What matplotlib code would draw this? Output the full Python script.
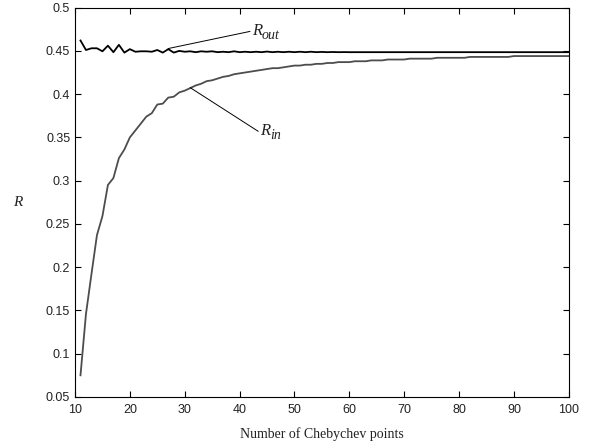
import numpy as np
import matplotlib
matplotlib.use("Agg")
import matplotlib.pyplot as plt
from matplotlib.transforms import offset_copy

# data
n_points = list(range(11, 101))

r_in = [
    0.075, 0.146, 0.192, 0.237, 0.259, 0.295, 0.303, 0.326, 0.336, 0.350,
    0.358, 0.366, 0.374, 0.378, 0.388, 0.389, 0.396, 0.397, 0.402, 0.404,
    0.407, 0.410, 0.412, 0.415, 0.416, 0.418, 0.420, 0.421, 0.423, 0.424,
    0.425, 0.426, 0.427, 0.428, 0.429, 0.430, 0.430, 0.431, 0.432, 0.433,
    0.433, 0.434, 0.434, 0.435, 0.435, 0.436, 0.436, 0.437, 0.437, 0.437,
    0.438, 0.438, 0.438, 0.439, 0.439, 0.439, 0.440, 0.440, 0.440, 0.440,
    0.441, 0.441, 0.441, 0.441, 0.441, 0.442, 0.442, 0.442, 0.442, 0.442,
    0.442, 0.443, 0.443, 0.443, 0.443, 0.443, 0.443, 0.443, 0.443, 0.444,
    0.444, 0.444, 0.444, 0.444, 0.444, 0.444, 0.444, 0.444, 0.444, 0.444,
]

r_out = [
    0.462, 0.451, 0.453, 0.453, 0.4495, 0.456, 0.4485, 0.457, 0.448, 0.452,
    0.449, 0.4495, 0.4495, 0.449, 0.451, 0.448, 0.452, 0.448, 0.450, 0.449,
    0.4495, 0.4485, 0.4495, 0.449, 0.4495, 0.4485, 0.449, 0.4485, 0.4495, 0.4485,
    0.449, 0.4485, 0.449, 0.4485, 0.4492, 0.4485, 0.449, 0.4485, 0.449, 0.4485,
    0.449, 0.4485, 0.449, 0.4485, 0.4488, 0.4485, 0.4487, 0.4485, 0.4486, 0.4485,
    0.4485, 0.4485, 0.4485, 0.4485, 0.4485, 0.4485, 0.4485, 0.4485, 0.4485, 0.4485,
    0.4485, 0.4485, 0.4485, 0.4485, 0.4485, 0.4485, 0.4485, 0.4485, 0.4485, 0.4485,
    0.4485, 0.4485, 0.4485, 0.4485, 0.4485, 0.4485, 0.4485, 0.4485, 0.4485, 0.4485,
    0.4485, 0.4485, 0.4485, 0.4485, 0.4485, 0.4485, 0.4485, 0.4485, 0.4485, 0.4485,
]

x_ticks = [10, 20, 30, 40, 50, 60, 70, 80, 90, 100]
y_ticks = [0.05, 0.1, 0.15, 0.2, 0.25, 0.3, 0.35, 0.4, 0.45, 0.5]
y_tick_labels = ["0.05", "0.1", "0.15", "0.2", "0.25", "0.3", "0.35", "0.4", "0.45", "0.5"]

# =====================================================
# PLOT
# =====================================================

fig = plt.figure(figsize=(5.92, 4.48), dpi=100)
ax = fig.add_axes([0.1267, 0.114, 0.834, 0.869])

ax.plot(n_points, r_out, color="black", lw=1.3)
ax.plot(n_points, r_in, color="#4d4d4d", lw=1.3)

ax.set_xlim(10, 100)
ax.set_ylim(0.05, 0.5)
ax.set_xticks(x_ticks)
ax.set_yticks(y_ticks)
ax.set_yticklabels(y_tick_labels)

ax.tick_params(direction="in", top=True, right=True, length=4, width=0.8,
               labelsize=9, labelcolor="#222222")
ax.tick_params(axis="x", pad=5)
for lab in ax.get_xticklabels() + ax.get_yticklabels():
    lab.set_family("Liberation Sans")
for sp in ax.spines.values():
    sp.set_linewidth(0.8)

ax.set_xlabel("Number of Chebychev points", family="Liberation Serif", fontsize=10,
              labelpad=8, color="#222222")
ax.set_ylabel("R", family="Liberation Serif", style="italic", fontsize=11,
              rotation=0, labelpad=20, va="center", color="#222222")

# annotations: leader lines + "R" with a large italic subscript
ann = [
    ("out", (27.0, 0.4527), (42.2, 0.4725)),
    ("in", (31.0, 0.4075), (43.7, 0.357)),
]
for sub, xy, xyt in ann:
    ax.annotate("", xy=xy, xytext=(xyt[0] - 0.3, xyt[1]),
                arrowprops=dict(arrowstyle="-", color="black", lw=0.7,
                                shrinkA=0, shrinkB=0))
    ax.text(xyt[0], xyt[1], "R", family="Liberation Serif", style="italic",
            fontsize=12, va="center", ha="left", color="#222222")
    ax.text(xyt[0], xyt[1], sub, family="Liberation Serif", style="italic",
            fontsize=10, va="center", ha="left", color="#222222",
            transform=offset_copy(ax.transData, fig=fig, x=7.5, y=-3, units="points"))

fig.savefig("out.png", dpi=100)
